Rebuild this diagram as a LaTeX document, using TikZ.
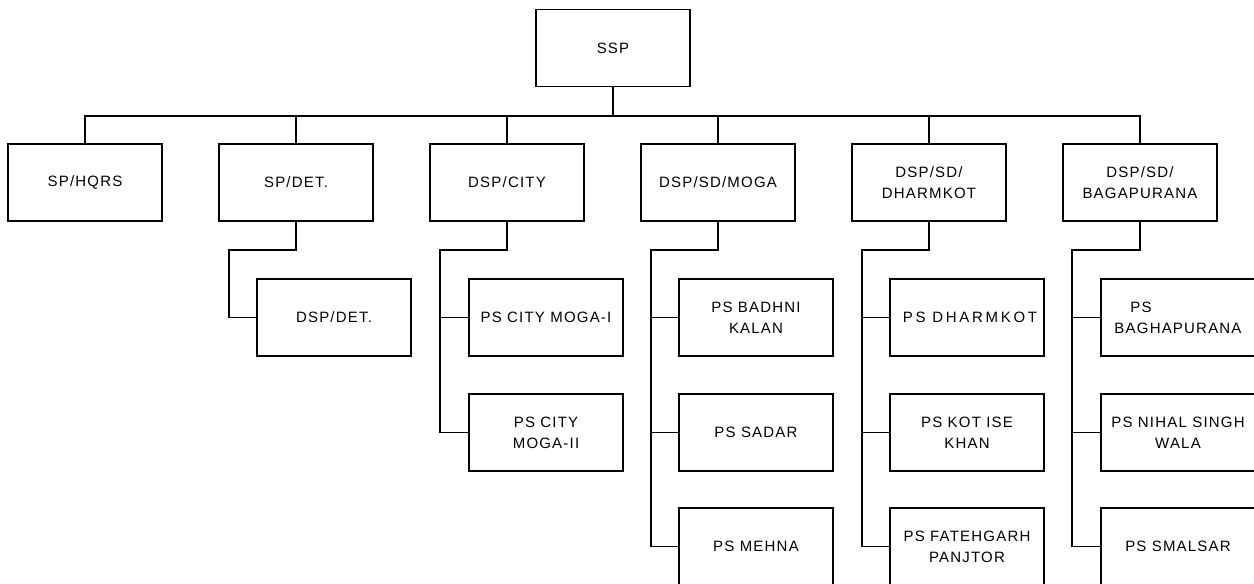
\documentclass[tikz,border=0pt]{standalone}
\usepackage{fontspec}
\newfontfamily\boxfont{Liberation Sans}[LetterSpace=8]
\newfontfamily\wideboxfont{Liberation Sans}[LetterSpace=18]
\begin{document}
\begin{tikzpicture}[x=1pt,y=-1pt,
  orgbox/.style={draw=black, line width=1.3pt, minimum width=154pt, minimum height=77pt,
    inner sep=0pt, align=center, font={\boxfont\fontsize{15}{21}\selectfont}},
  link/.style={draw=black, line width=1.3pt}]
\useasboundingbox[fill=white] (0,0) rectangle (1254,584);
% top
\node[orgbox] (ssp) at (613,48) {SSP};
\coordinate (bus) at (613,116);
% level 1
\node[orgbox] (a1) at (85,182.5) {SP/HQRS};
\node[orgbox] (a2) at (296,182.5) {SP/DET.};
\node[orgbox] (a3) at (507,182.5) {DSP/CITY};
\node[orgbox] (a4) at (718,182.5) {DSP/SD/MOGA};
\node[orgbox] (a5) at (929,182.5) {DSP/SD/\\DHARMKOT};
\node[orgbox] (a6) at (1140,182.5) {DSP/SD/\\BAGAPURANA};
\foreach \n in {a1,a2,a3,a4,a5,a6}{
  \draw[link] (ssp.south) -- (bus) -| (\n.north);
}
% elbows
\coordinate (e2) at (229,250);
\coordinate (e3) at (440,250);
\coordinate (e4) at (651,250);
\coordinate (e5) at (862,250);
\coordinate (e6) at (1072,250);
% level 2
\node[orgbox] (p21) at (334,317.5) {DSP/DET.};
\node[orgbox] (p31) at (546,317.5) {PS CITY MOGA-I};
\node[orgbox] (p32) at (546,432.5) {PS CITY\\MOGA-II};
\node[orgbox] (p41) at (756,317.5) {PS BADHNI\\KALAN};
\node[orgbox] (p42) at (756,432.5) {PS SADAR};
\node[orgbox] (p43) at (756,546.5) {PS MEHNA};
\node[orgbox, font={\wideboxfont\fontsize{15}{21}\selectfont}] (p51) at (967,317.5) {\hspace*{6pt}PS DHARMKOT};
\node[orgbox] (p52) at (967,432.5) {PS KOT ISE\\KHAN};
\node[orgbox] (p53) at (967,546.5) {PS FATEHGARH\\PANJTOR};
\node[orgbox, align=left] (p61) at (1178,317.5) {\hspace*{16pt}PS\\BAGHAPURANA};
\node[orgbox] (p62) at (1178,432.5) {PS NIHAL SINGH\\WALA};
\node[orgbox] (p63) at (1178,546.5) {PS SMALSAR};
% connectors
\draw[link] (a2.south) |- (e2) |- (p21.west);
\draw[link] (a3.south) |- (e3) |- (p31.west);
\draw[link] (e3) |- (p32.west);
\draw[link] (a4.south) |- (e4) |- (p41.west);
\draw[link] (e4) |- (p42.west);
\draw[link] (e4) |- (p43.west);
\draw[link] (a5.south) |- (e5) |- (p51.west);
\draw[link] (e5) |- (p52.west);
\draw[link] (e5) |- (p53.west);
\draw[link] (a6.south) |- (e6) |- (p61.west);
\draw[link] (e6) |- (p62.west);
\draw[link] (e6) |- (p63.west);
\end{tikzpicture}
\end{document}
